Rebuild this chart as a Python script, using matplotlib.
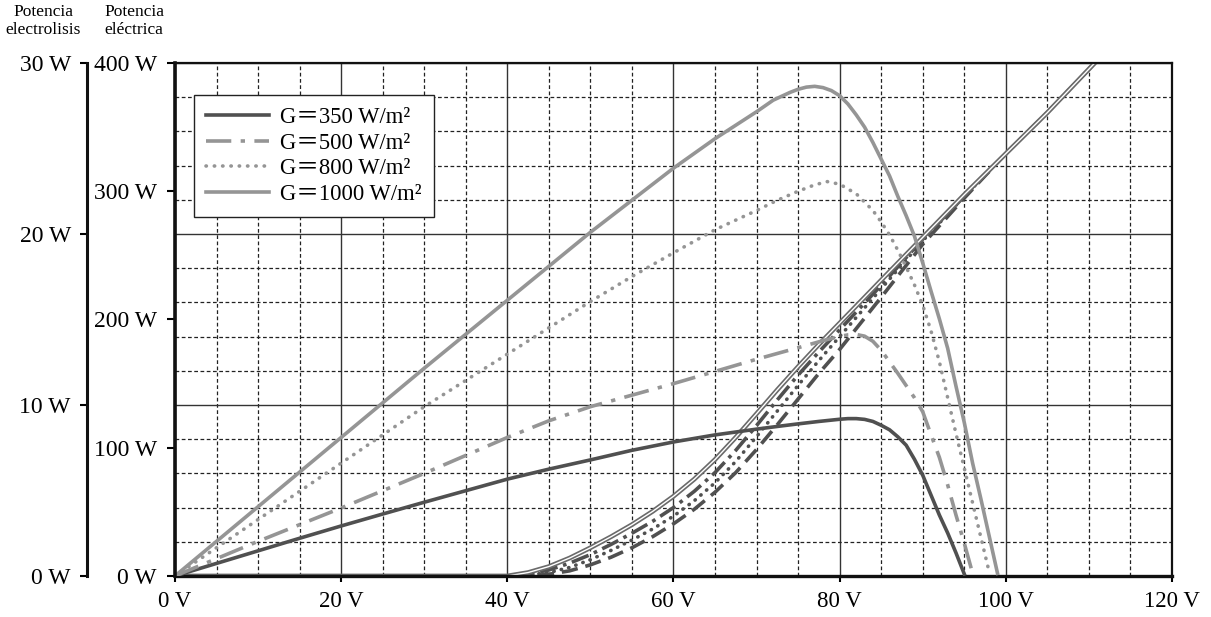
import matplotlib
matplotlib.use("Agg")
import matplotlib.pyplot as plt
from matplotlib.ticker import MultipleLocator, FuncFormatter

plt.rcParams['font.family'] = ['Liberation Serif', 'Noto Sans CJK JP', 'DejaVu Sans']

# curvas P-V del panel (potencia eléctrica, W) para cada irradiancia
v350 = [0, 5, 10, 15, 20, 25, 30, 35, 40, 45, 50, 55, 60, 65, 70, 72.5, 75, 77.5, 80, 81, 82,
        83, 84, 85, 86, 87, 88, 89, 90, 91, 92, 93, 94, 95]
p350 = [0, 9.8, 19.6, 29.4, 39, 48.3, 57.5, 66.5, 75.5, 83.3, 90.5, 98, 104.5, 110, 114.5,
        116.6, 118.6, 120.5, 122.2, 122.7, 122.7, 122.1, 120.5, 117.5, 114, 108.5, 102, 91,
        78.5, 63, 47.5, 33.5, 18, 1.5]

v500 = [0, 5, 10, 20, 30, 40, 45, 50, 55, 60, 65, 70, 75, 78, 80, 81, 82, 83, 84, 85, 86, 87,
        88, 89, 90, 91, 92, 93, 94, 95, 96]
p500 = [0, 13.5, 27, 53, 80, 108, 121, 132, 141, 150, 159.5, 169, 178, 183.5, 186.8, 188,
        188.3, 187, 183, 176, 167, 158, 148.5, 139, 128, 110, 92.5, 71, 47.5, 25.5, 2]

v800 = [0, 5, 10, 20, 30, 40, 50, 55, 60, 65, 70, 72.5, 75, 77, 78.5, 80, 82, 84, 85, 86, 87,
        88, 89, 90, 91, 92, 93, 94, 95, 96, 97, 98]
p800 = [0, 22, 44, 88, 132, 173, 214, 233.5, 252, 270, 285, 293, 300, 305, 307.5, 305.5,
        298, 285, 276, 266, 254, 241, 227, 211, 191, 167, 139, 111, 84, 57, 30, 3]

v1000 = [0, 10, 20, 30, 40, 50, 55, 60, 65, 70, 72, 74, 75, 76, 77, 78, 79, 80, 81, 82, 83,
         84, 85, 86, 87, 88, 89, 90, 91, 92, 93, 94, 95, 96, 97, 98, 99]
p1000 = [0, 54, 108, 162, 215, 268, 293, 318, 341, 362, 371, 377, 379.5, 381.2, 381.8, 380.8,
         378.5, 374.5, 368, 359.5, 350, 338, 325, 312, 296, 281, 265, 244, 222, 200.5, 177.5,
         148, 119.6, 88, 60, 31, 2]

# potencia del electrolizador (W)
v_el = [0, 40, 42.5, 45, 47.5, 50, 52.5, 55, 57.5, 60, 62.5, 65, 67.5, 70, 72.5, 75, 77.5, 80,
        85, 90, 95, 100, 105, 110.7]
el_a = [0, 0, 0.2, 0.55, 1.05, 1.65, 2.3, 3.0, 3.78, 4.66, 5.66, 6.81, 8.11, 9.49, 10.89,
        12.24, 13.54, 14.79, 17.3, 19.8, 22.3, 24.7, 27.1, 30]
el_b = [0, 0, 0.1, 0.35, 0.75, 1.25, 1.85, 2.5, 3.2, 4.0, 4.95, 6.05, 7.35, 8.8, 10.3, 11.75,
        13.1, 14.4, 17.0, 19.7, 22.2, 24.7, 27.1, 30]
el_c = [0, 0, 0.05, 0.2, 0.5, 0.95, 1.5, 2.1, 2.75, 3.5, 4.4, 5.45, 6.7, 8.15, 9.65, 11.15,
        12.6, 14.0, 16.8, 19.6, 22.2, 24.7, 27.1, 30]
el_d = [0, 0, 0, 0.1, 0.3, 0.65, 1.1, 1.65, 2.3, 3.05, 3.9, 4.9, 6.05, 7.4, 8.85, 10.35,
        11.85, 13.25, 16.3, 19.4, 22.1, 24.7, 27.1, 30]

labels = ['G\uff1d350 W/m²', 'G\uff1d500 W/m²', 'G\uff1d800 W/m²', 'G\uff1d1000 W/m²']

dark = '#505050'
light = '#959595'

fig = plt.figure(figsize=(12.11, 6.17), dpi=100)
ax = fig.add_axes([0.1445, 0.0665, 0.8233, 0.8314])
ax2 = ax.twinx()

# eje de electrolisis (exterior)
ax.set_xlim(0, 120)
ax.set_ylim(0, 30)
ax.xaxis.set_major_locator(MultipleLocator(20))
ax.xaxis.set_minor_locator(MultipleLocator(5))
ax.yaxis.set_major_locator(MultipleLocator(10))
ax.yaxis.set_minor_locator(MultipleLocator(2))
ax.xaxis.set_major_formatter(FuncFormatter(lambda v, p: '%d V' % v))
ax.yaxis.set_major_formatter(FuncFormatter(lambda v, p: '%d W' % v))
ax.set_axisbelow(True)
ax.grid(which='major', color='#333333', lw=1.0, ls='-')
ax.grid(which='minor', color='#222222', lw=0.9, ls=(0, (3, 2)))
ax.tick_params(axis='x', which='minor', length=0)
ax.tick_params(axis='y', which='minor', length=0)
ax.tick_params(axis='x', which='major', direction='out', length=4, width=1.5, pad=7, labelsize=16.5)
ax.tick_params(axis='y', which='major', direction='out', length=5, width=1.5, pad=7, labelsize=17)
ax.spines['left'].set_position(('outward', 63))
ax.spines['left'].set_linewidth(2.2)
ax.spines['bottom'].set_linewidth(2.4)
ax.spines['top'].set_linewidth(1.6)
ax.spines['right'].set_linewidth(1.6)
for s in ax.spines.values():
    s.set_color('#111111')

ax.plot(v_el, el_d, color=dark, lw=2.6, ls=(0, (4.5, 2.2)))
ax.plot(v_el, el_c, color=dark, lw=2.6, ls=(0, (0.1, 2.0)), dash_capstyle='round')
ax.plot(v_el, el_b, color=dark, lw=2.6, ls=(0, (5, 1.6, 1, 1.6)))
ax.plot(v_el, el_a, color='#6a6a6a', lw=3.4)
ax.plot(v_el, el_a, color='white', lw=1.0)

# eje de potencia eléctrica (interior)
ax2.set_ylim(0, 400)
ax2.yaxis.tick_left()
ax2.yaxis.set_major_locator(MultipleLocator(100))
ax2.yaxis.set_major_formatter(FuncFormatter(lambda v, p: '%d W' % v))
ax2.tick_params(axis='y', direction='out', length=6, width=1.5, pad=7, labelsize=17)
for k in ['top', 'right', 'bottom']:
    ax2.spines[k].set_visible(False)
ax2.spines['left'].set_visible(True)
ax2.spines['left'].set_linewidth(2.6)
ax2.spines['left'].set_color('#111111')

ax2.plot(v350, p350, color=dark, lw=2.6, label=labels[0])
ax2.plot(v500, p500, color=light, lw=2.6, ls=(0, (7, 2.6, 1.2, 2.6)), label=labels[1])
ax2.plot(v800, p800, color=light, lw=2.6, ls=(0, (0.1, 2.2)), dash_capstyle='round', label=labels[2])
ax2.plot(v1000, p1000, color=light, lw=2.6, label=labels[3])

leg = ax2.legend(loc='upper left', bbox_to_anchor=(0.019, 0.938), borderaxespad=0,
                 fontsize=16.3, handlelength=2.75, handletextpad=0.5, labelspacing=0.2,
                 borderpad=0.55, fancybox=False, framealpha=1, edgecolor='#222222')
leg.get_frame().set_linewidth(1.0)

fig.text(43 / 1211, 1 - 4 / 617, 'Potencia\nelectrolisis', ha='center', va='top',
         fontsize=12.5, linespacing=1.2)
fig.text(134 / 1211, 1 - 4 / 617, 'Potencia\neléctrica', ha='center', va='top',
         fontsize=12.5, linespacing=1.2)

fig.savefig('out.png', dpi=100)
